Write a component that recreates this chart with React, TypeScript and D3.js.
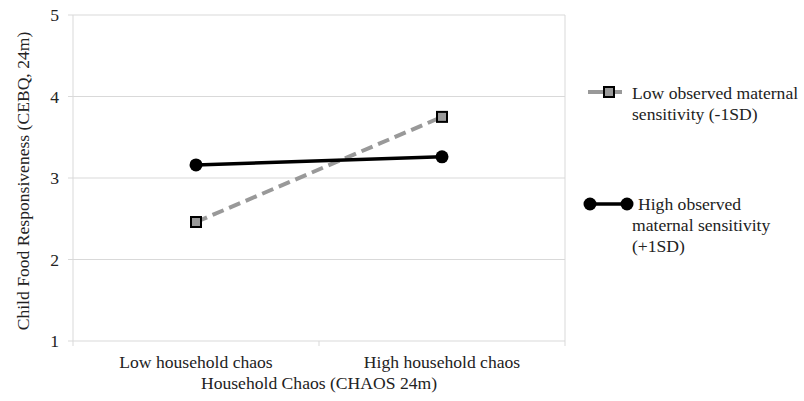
import React from "react";
import * as d3 from "d3";

const categories = ["Low household chaos", "High household chaos"];
const lowSensitivity = [2.46, 3.75];
const highSensitivity = [3.16, 3.26];
const yTicks = [1, 2, 3, 4, 5];

const W = 804, H = 401;
const M = { left: 73, right: 565, top: 15, bottom: 341 };
const font = "'Liberation Serif', 'Times New Roman', serif";
const FS = 17.6;

export default function App() {
  const x = d3.scaleBand<string>().domain(categories).range([M.left, M.right]);
  const y = d3.scaleLinear().domain([1, 5]).range([M.bottom, M.top]);
  const cx = (c: string) => (x(c) as number) + x.bandwidth() / 2;
  const line = d3.line<number>().x((_, i) => cx(categories[i])).y((d) => y(d));
  const grid = "#d9d9d9";
  return (
    <svg width={W} height={H} style={{ position: "absolute", left: 0, top: 0, background: "#fff" }}>
      {yTicks.map((t) => (
        <g key={t}>
          <line x1={M.left - 5} x2={M.right} y1={y(t)} y2={y(t)} stroke={grid} strokeWidth={1} />
          <text x={M.left - 14} y={y(t)} dy="0.35em" textAnchor="end" fontFamily={font} fontSize={FS} fill="#222">{t}</text>
        </g>
      ))}
      <line x1={M.left} x2={M.left} y1={M.top} y2={M.bottom} stroke={grid} />
      <line x1={M.right} x2={M.right} y1={M.top} y2={M.bottom} stroke={grid} />
      {[M.left, M.left + x.bandwidth(), M.right].map((px, i) => (
        <line key={i} x1={px} x2={px} y1={M.bottom} y2={M.bottom + 5} stroke={grid} />
      ))}
      {categories.map((c) => (
        <text key={c} x={cx(c)} y={368} textAnchor="middle" fontFamily={font} fontSize={FS} fill="#222">{c}</text>
      ))}
      <text x={319} y={389} textAnchor="middle" fontFamily={font} fontSize={FS} fill="#222">Household Chaos (CHAOS 24m)</text>
      <text transform={`translate(29,181) rotate(-90)`} textAnchor="middle" fontFamily={font} fontSize={FS} fill="#222">Child Food Responsiveness (CEBQ, 24m)</text>

      <path d={line(lowSensitivity) || ""} fill="none" stroke="#999" strokeWidth={4} strokeDasharray="12,6" />
      <path d={line(highSensitivity) || ""} fill="none" stroke="#000" strokeWidth={3.5} />
      {lowSensitivity.map((v, i) => (
        <rect key={i} x={cx(categories[i]) - 5} y={y(v) - 5} width={10} height={10} fill="#999" stroke="#000" strokeWidth={2} />
      ))}
      {highSensitivity.map((v, i) => (
        <circle key={i} cx={cx(categories[i])} cy={y(v)} r={6.5} fill="#000" />
      ))}

      <line x1={588} x2={622} y1={92} y2={92} stroke="#999" strokeWidth={4} />
      <rect x={604} y={87} width={10} height={10} fill="#999" stroke="#000" strokeWidth={2} />
      <text fontFamily={font} fontSize={FS} fill="#222">
        <tspan x={632} y={99}>Low observed maternal</tspan>
        <tspan x={632} y={120}>sensitivity (-1SD)</tspan>
      </text>

      <line x1={590} x2={627} y1={204} y2={204} stroke="#000" strokeWidth={3.5} />
      <circle cx={590} cy={204} r={6.5} fill="#000" />
      <circle cx={627} cy={204} r={6.5} fill="#000" />
      <text fontFamily={font} fontSize={FS} fill="#222">
        <tspan x={638} y={210}>High observed</tspan>
        <tspan x={632} y={231}>maternal sensitivity</tspan>
        <tspan x={632} y={252}>(+1SD)</tspan>
      </text>
    </svg>
  );
}
